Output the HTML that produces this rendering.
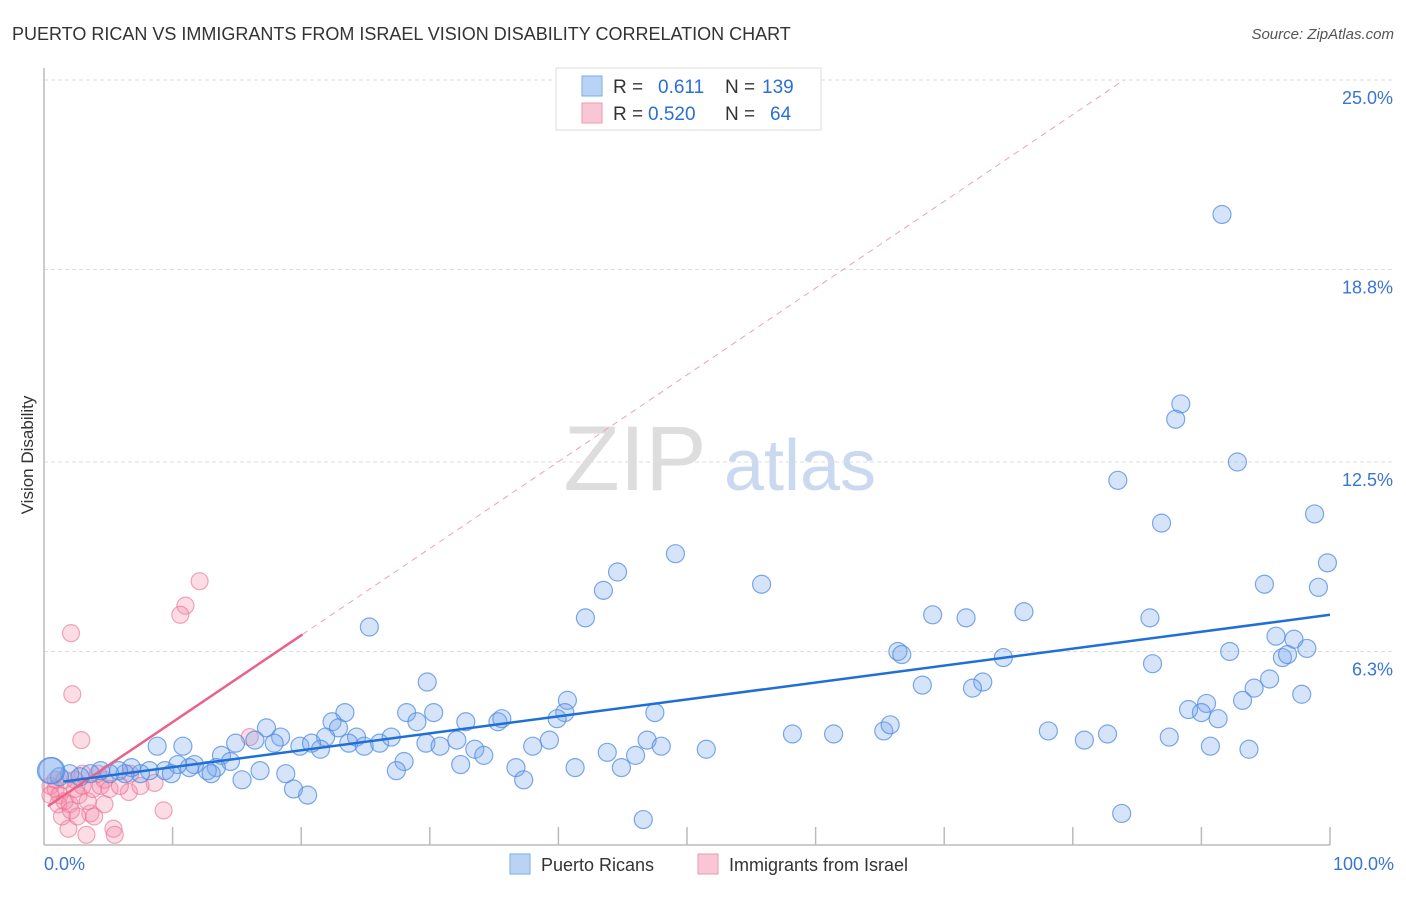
<!DOCTYPE html>
<html><head><meta charset="utf-8"><style>
body{margin:0;background:#fff;font-family:"Liberation Sans",sans-serif;}
svg text{font-family:"Liberation Sans",sans-serif;}
</style></head><body>
<svg id="chart" width="1406" height="892">
<text x="12" y="40" font-size="18" fill="#333">PUERTO RICAN VS IMMIGRANTS FROM ISRAEL VISION DISABILITY CORRELATION CHART</text>
<text x="1394" y="39" font-size="15" fill="#555" font-style="italic" text-anchor="end">Source: ZipAtlas.com</text>
<text x="33" y="455" font-size="17" fill="#333" text-anchor="middle" transform="rotate(-90 33 455)">Vision Disability</text>
<g><text x="635" y="490" font-size="92" fill="#ddd" font-family="Liberation Serif" text-anchor="middle">ZIP</text><text x="800" y="490" font-size="72" fill="#c9d9f0" text-anchor="middle">atlas</text></g>
<g id="grid"></g><g id="axes"></g><g id="pinkpts"></g><g id="bluepts"></g><g id="lines"></g>
<g>
<rect x="556" y="68" width="265" height="62" fill="#fff" stroke="#ddd"/>
<rect x="582" y="76" width="20" height="20" fill="#b9d3f5" stroke="#7eaaea"/>
<text x="613" y="93" font-size="19" fill="#333">R =</text><text x="658" y="93" font-size="19" fill="#2a6fd6">0.611</text>
<text x="725" y="93" font-size="19" fill="#333">N =</text><text x="762" y="93" font-size="19" fill="#2a6fd6">139</text>
<rect x="582" y="103" width="20" height="20" fill="#f9c6d5" stroke="#ee99b2"/>
<text x="613" y="120" font-size="19" fill="#333">R =</text><text x="648" y="120" font-size="19" fill="#2a6fd6">0.520</text>
<text x="725" y="120" font-size="19" fill="#333">N =</text><text x="770" y="120" font-size="19" fill="#2a6fd6">64</text>
</g>
<g>
<rect x="510" y="854" width="20" height="20" fill="#b9d3f5" stroke="#7eaaea"/>
<text x="541" y="871" font-size="18" fill="#333">Puerto Ricans</text>
<rect x="698" y="854" width="20" height="20" fill="#f9c6d5" stroke="#ee99b2"/>
<text x="729" y="871" font-size="18" fill="#333">Immigrants from Israel</text>
</g>
</svg>
<script>
const yTicks=[25.0,18.8,12.5,6.3];
const yTickLabels=["25.0%","18.8%","12.5%","6.3%"];
const xTickVals=[0,10,20,30,40,50,60,70,80,90,100];
const blueX=[91.6,88.4,88.0,92.8,83.5,86.9,98.8,99.8,94.9,99.1,49.1,44.6,43.5,55.8,42.1,25.3,69.1,71.7,76.2,86.0,95.8,97.2,98.2,92.2,96.3,96.7,66.4,66.7,74.6,86.2,95.3,94.1,93.2,97.8,68.3,73.0,72.2,89.0,90.4,90.0,91.3,78.1,80.9,82.7,87.5,90.7,93.7,83.8,58.2,61.4,65.3,65.8,51.5,47.5,40.7,40.5,39.9,39.3,38.0,46.9,48.0,43.8,46.0,44.9,41.3,46.6,29.8,30.3,28.2,29.0,32.8,35.3,35.6,29.7,30.8,32.1,33.5,34.2,32.4,28.0,27.4,36.7,37.3,23.4,22.4,22.9,21.9,24.3,23.7,24.9,26.1,27.0,21.5,19.9,20.8,17.3,18.4,17.9,16.4,14.9,13.8,14.5,13.4,12.7,13.0,11.7,11.3,10.8,8.8,10.4,9.4,9.9,16.8,18.8,15.4,19.4,20.5,8.2,7.5,6.8,6.3,5.8,5.1,4.4,3.6,2.8,2.0,1.2,0.6,0.5];
const blueY=[20.6,14.4,13.9,12.5,11.9,10.5,10.8,9.2,8.5,8.4,9.5,8.9,8.3,8.5,7.4,7.1,7.5,7.4,7.6,7.4,6.8,6.7,6.4,6.3,6.1,6.2,6.3,6.2,6.1,5.9,5.4,5.1,4.7,4.9,5.2,5.3,5.1,4.4,4.6,4.3,4.1,3.7,3.4,3.6,3.5,3.2,3.1,1.0,3.6,3.6,3.7,3.9,3.1,4.3,4.7,4.3,4.1,3.4,3.2,3.4,3.2,3.0,2.9,2.5,2.5,0.8,5.3,4.3,4.3,4.0,4.0,4.0,4.1,3.3,3.2,3.4,3.1,2.9,2.6,2.7,2.4,2.5,2.1,4.3,4.0,3.8,3.5,3.5,3.3,3.2,3.3,3.5,3.1,3.2,3.3,3.8,3.5,3.3,3.4,3.3,2.9,2.7,2.5,2.4,2.3,2.6,2.5,3.2,3.2,2.6,2.4,2.3,2.4,2.3,2.1,1.8,1.6,2.4,2.3,2.5,2.3,2.4,2.3,2.4,2.3,2.2,2.3,2.2,2.4,2.4];
const pinkX=[12.1,11.0,10.6,2.1,2.2,2.9,16.0,6.6,8.6,9.3,4.7,3.6,5.4,5.5,3.3,3.9,1.9,0.5,0.9,1.2,1.6,1.1,2.0,2.4,2.7,3.0,3.4,3.8,4.4,4.7,5.1,5.9,3.0,2.4,1.6,0.9,0.5,1.4,2.6,2.1,7.5,4.2,6.7];
const pinkY=[8.6,7.8,7.5,6.9,4.9,3.4,3.5,1.7,2.0,1.1,1.3,1.0,0.5,0.3,0.3,0.9,0.5,1.9,1.8,1.6,1.4,1.3,1.3,1.8,1.6,1.9,1.4,1.8,1.9,2.1,1.8,1.9,2.3,2.1,2.1,2.1,1.6,0.9,0.9,1.1,1.9,2.3,2.3];
const blueFit=[1.96,0.0554];
const pinkFit=[1.15,0.284];
const X0=44,X1=1330,Y0=844,PXY=30.56;
const sx=v=>X0+(X1-X0)*v/100, sy=v=>Y0-v*PXY;
const NS="http://www.w3.org/2000/svg";
function mk(t,a,p){const e=document.createElementNS(NS,t);for(const k in a)e.setAttribute(k,a[k]);p.appendChild(e);return e;}
const grid=document.getElementById('grid'),axes=document.getElementById('axes');
yTicks.forEach((v,i)=>{
 const gl=mk('line',{x1:X0,x2:1394,y1:sy(v),y2:sy(v),stroke:'#ddd','stroke-dasharray':'4,3'},grid);
 
 
 const t=mk('text',{x:1393,y:sy(v)+24,'font-size':18,fill:'#3a74d4','text-anchor':'end'},grid);t.textContent=yTickLabels[i];
 
 
});
const xa=mk('line',{x1:X0,x2:X1,y1:845,y2:845,stroke:'#bbb','stroke-width':1.5},axes);


const ya=mk('line',{x1:X0,x2:X0,y1:68,y2:845,stroke:'#bbb','stroke-width':1.5},axes);


xTickVals.forEach(v=>{if(v===0)return;const tk=mk('line',{x1:sx(v),x2:sx(v),y1:827,y2:845,stroke:'#bbb','stroke-width':1.5},axes);
 
 });
const l0=mk('text',{x:44,y:870,'font-size':18,fill:'#3a74d4'},axes);l0.textContent='0.0%';


const l1=mk('text',{x:1394,y:870,'font-size':18,fill:'#3a74d4','text-anchor':'end'},axes);l1.textContent='100.0%';


const pg=document.getElementById('pinkpts');
pinkX.forEach((x,i)=>{const c=mk('circle',{cx:sx(x),cy:sy(pinkY[i]),r:8.5,fill:'rgba(244,140,170,0.3)',stroke:'rgba(232,110,145,0.6)','stroke-width':1.2},pg);
 
 });
const bg=document.getElementById('bluepts');
blueX.forEach((x,i)=>{const c=mk('circle',{cx:sx(x),cy:sy(blueY[i]),r:i>=blueX.length-2?13:9,fill:'rgba(120,165,235,0.3)',stroke:'rgba(80,140,225,0.75)','stroke-width':1.2},bg);
 
 });
const lg=document.getElementById('lines');
const pf=x=>pinkFit[0]+pinkFit[1]*x, bf=x=>blueFit[0]+blueFit[1]*x;
const xEnd=(25-pinkFit[0])/pinkFit[1];
const pd=mk('line',{x1:sx(20.1),y1:sy(pf(20.1)),x2:sx(xEnd),y2:sy(25),stroke:'#eea0b8','stroke-width':1,'stroke-dasharray':'6,5'},lg);


const ps=mk('line',{x1:sx(0.3),y1:sy(pf(0.3)),x2:sx(20.1),y2:sy(pf(20.1)),stroke:'#e8628a','stroke-width':2.5},lg);


const bl=mk('line',{x1:sx(1.5),y1:sy(bf(1.5)),x2:sx(100),y2:sy(bf(100)),stroke:'#1f6fd6','stroke-width':2.5},lg);


</script>
</body></html>
